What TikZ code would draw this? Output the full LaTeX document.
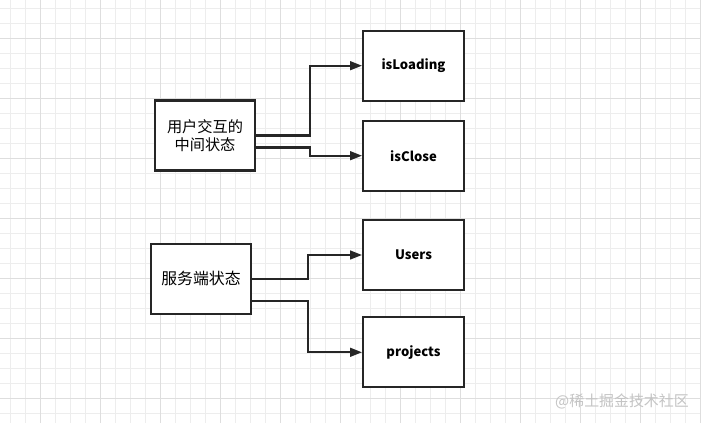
\documentclass[tikz,border=0pt]{standalone}
\usepackage{fontspec}
\usepackage{tikz}
\usepackage{xcolor}
\usetikzlibrary{
  positioning, arrows.meta, calc,
}
\setmainfont{Noto Sans CJK SC}
\definecolor{cGridMinor}   {HTML}{EDEDED}
\definecolor{cGridMajor}   {HTML}{DEDEDE}
\definecolor{cInk}         {HTML}{262626}
\definecolor{cMark}        {HTML}{C4C4C4}
\tikzset{
  stateBox/.style={draw=cInk, line width=1.6pt, fill=white, minimum width=75pt,
                   minimum height=52.5pt, inner sep=0pt, align=center,
                   font=\fontsize{11.4}{14}\selectfont},
  leafBox/.style={stateBox, minimum width=75.5pt, font=\fontsize{9.8}{12}\selectfont\bfseries},
  flowArrow/.style={draw=cInk, line width=1.6pt, -{Triangle[length=9pt, width=6.5pt]}},
}

\begin{document}
\begin{tikzpicture}[x=0.75pt, y=-0.75pt]
        \useasboundingbox (0,0) rectangle (701,423);
        \fill[white] (0,0) rectangle (701,423);
        % grid
        \foreach \k in {0,...,46}{
          \draw[cGridMinor, line width=0.6pt] (10+\k*15, 0) -- (10+\k*15, 423);
        }
        \foreach \k in {0,...,28}{
          \draw[cGridMinor, line width=0.6pt] (0, 8+\k*15) -- (701, 8+\k*15);
        }
        \foreach \k in {0,...,11}{
          \draw[cGridMajor, line width=0.6pt] (40+\k*60, 0) -- (40+\k*60, 423);
        }
        \foreach \k in {0,...,6}{
          \draw[cGridMajor, line width=0.6pt] (0, 38+\k*60) -- (701, 38+\k*60);
        }

        \node[stateBox] (uiState) at (205, 135.5) {用户交互的\\中间状态};
        \node[leafBox]  (loading) at (413.5, 65.7)  {isLoading};
        \node[leafBox]  (close)   at (413.5, 155.7) {isClose};

        \node[stateBox, font=\fontsize{11.9}{14}\selectfont] (srvState) at (201, 278.7) {服务端状态};
        \node[leafBox]  (users)    at (413.5, 255)   {Users};
        \node[leafBox]  (projects) at (413.5, 352.3) {projects};

        \draw[flowArrow] (uiState.east) -- ++(54,0) |- (loading.west);
        \draw[flowArrow] ([yshift=-9pt]uiState.east) -- ++(54,0) |- (close.west);
        \draw[flowArrow] (srvState.east) -- ++(56,0) |- (users.west);
        \draw[flowArrow] ([yshift=-17pt]srvState.east) -- ++(56,0) |- (projects.west);

        \node[font=\fontsize{11.2}{14}\selectfont, text=cMark] (mark) at (622, 401) {@稀土掘金技术社区};
      \end{tikzpicture}
\end{document}
